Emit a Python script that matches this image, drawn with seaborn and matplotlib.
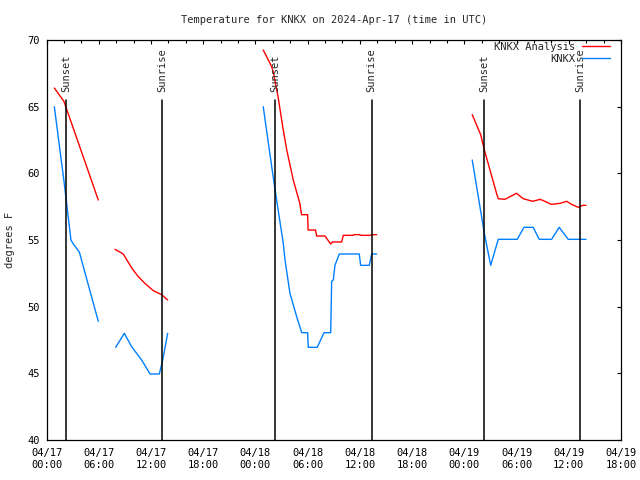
import pandas as pd
import matplotlib
matplotlib.use("Agg")
import matplotlib.pyplot as plt
import seaborn as sns
from matplotlib.ticker import MultipleLocator

# hours after 2024-04-17 00:00 UTC, one list per unbroken segment
ana_hours = [
    [0.9, 2.0, 5.95],
    [7.87, 8.82, 9.79, 10.55, 11.3, 12.27, 13.23, 13.92],
    [24.9, 25.87, 26.05, 26.6, 27.2, 27.6, 28.35, 29.1, 29.3, 30.0, 30.05,
     30.9, 31.04, 31.99, 32.65, 32.83, 33.9, 34.1, 35.24, 35.3, 36.0, 36.1,
     37.16, 37.36, 37.93],
    [48.91, 49.88, 50.3, 50.95, 51.7, 51.9, 52.67, 53.25, 54.0, 54.77, 55.85,
     56.7, 57.27, 58.0, 58.99, 59.76, 60.33, 61.1, 61.6, 61.98],
]
ana_temps = [
    [66.4, 65.4, 58.0],
    [54.3, 53.95, 52.9, 52.25, 51.75, 51.2, 50.9, 50.5],
    [69.25, 68.0, 67.6, 65.75, 63.25, 61.75, 59.5, 57.75, 56.9, 56.9, 55.75,
     55.75, 55.3, 55.3, 54.7, 54.85, 54.85, 55.35, 55.35, 55.4, 55.4, 55.35,
     55.35, 55.4, 55.4],
    [64.4, 62.9, 61.75, 60.25, 58.5, 58.1, 58.05, 58.25, 58.5, 58.1, 57.9,
     58.05, 57.9, 57.67, 57.75, 57.9, 57.67, 57.45, 57.6, 57.6],
]

obs_hours = [
    [0.9, 2.04, 2.81, 3.08, 3.77, 5.95],
    [7.95, 8.94, 9.78, 10.93, 11.9, 12.96, 13.35, 13.92],
    [24.9, 25.6, 26.25, 27.2, 27.4, 27.97, 28.74, 29.32, 30.0, 30.07, 31.1,
     31.88, 32.65, 32.76, 32.95, 33.14, 33.64, 35.93, 36.09, 37.08, 37.36,
     37.93],
    [48.91, 50.3, 51.03, 51.9, 54.08, 54.85, 55.92, 56.6, 58.03, 58.9, 59.94,
     61.98],
]
obs_temps = [
    [65.0, 59.25, 55.0, 54.7, 54.1, 48.9],
    [46.95, 48.0, 47.0, 46.0, 44.95, 44.95, 46.0, 48.0],
    [65.0, 61.75, 58.8, 54.75, 53.5, 51.0, 49.25, 48.05, 48.05, 46.95, 46.95,
     48.05, 48.05, 51.9, 52.0, 53.1, 53.95, 53.95, 53.1, 53.1, 53.95, 53.95],
    [61.0, 55.5, 53.1, 55.05, 55.05, 55.95, 55.95, 55.05, 55.05, 55.95, 55.05,
     55.05],
]

sunset_hours = [2.28, 26.28, 50.29]
sunrise_hours = [13.3, 37.36, 61.32]

tick_hours = list(range(0, 67, 6))
tick_labels = ["04/17\n00:00", "04/17\n06:00", "04/17\n12:00", "04/17\n18:00",
               "04/18\n00:00", "04/18\n06:00", "04/18\n12:00", "04/18\n18:00",
               "04/19\n00:00", "04/19\n06:00", "04/19\n12:00", "04/19\n18:00"]

# long-form table, one unit per segment so gaps stay open
rows = []
for name, hrs, tmps in [("KNKX Analysis", ana_hours, ana_temps),
                        ("KNKX", obs_hours, obs_temps)]:
    for i, (hs, ts) in enumerate(zip(hrs, tmps)):
        for h, t in zip(hs, ts):
            rows.append({"hour": h, "temp": t, "series": name,
                         "seg": f"{name}-{i}"})
df = pd.DataFrame(rows)

sns.set_theme(style="white")
plt.rcParams["font.family"] = ["DejaVu Sans Mono"]
plt.rcParams["font.size"] = 7.5

fig = plt.figure(figsize=(6.4, 4.8), dpi=100)
ax = fig.add_axes([46.5 / 640, 40 / 480, 574.5 / 640, 400 / 480])

sns.lineplot(data=df, x="hour", y="temp", hue="series", units="seg",
             estimator=None, hue_order=["KNKX Analysis", "KNKX"],
             palette={"KNKX Analysis": "#ff0000", "KNKX": "#0080ff"},
             linewidth=1.0, ax=ax)

for h in sunset_hours:
    ax.plot([h, h], [40, 65.5], color="black", lw=1.1)
    ax.text(h, 66.1, "Sunset", rotation=90, ha="center", va="bottom",
            fontsize=7.5)
for h in sunrise_hours:
    ax.plot([h, h], [40, 65.5], color="black", lw=1.1)
    ax.text(h, 66.1, "Sunrise", rotation=90, ha="center", va="bottom",
            fontsize=7.5)

ax.set_xlim(0, 66)
ax.set_ylim(40, 70)
ax.set_xticks(tick_hours)
ax.set_xticklabels(tick_labels)
ax.xaxis.set_minor_locator(MultipleLocator(2))
ax.set_yticks(range(40, 71, 5))
ax.tick_params(axis="both", which="both", direction="in", top=True,
               right=True, colors="black", labelsize=7.5, width=0.8)
ax.tick_params(axis="both", which="major", length=3.2)
ax.tick_params(axis="both", which="minor", length=2.2)
ax.tick_params(axis="x", which="major", pad=6)
ax.tick_params(axis="y", which="major", pad=4.5)
for s in ax.spines.values():
    s.set_color("black")
    s.set_linewidth(0.9)

ax.set_xlabel("")
ax.set_ylabel("degrees F", fontsize=7.5)
ax.yaxis.set_label_coords(-0.055, 0.5)
ax.set_title("Temperature for KNKX on 2024-Apr-17 (time in UTC)",
             fontsize=7.5, pad=12)

leg = ax.get_legend()
handles = leg.legend_handles
labels = [t.get_text() for t in leg.get_texts()]
ax.legend(handles, labels, loc="upper right", bbox_to_anchor=(0.981, 0.995),
          frameon=False, markerfirst=False, borderpad=0, borderaxespad=0,
          handlelength=2.7, handletextpad=0.65, labelspacing=0.15,
          fontsize=7.5)

fig.savefig("out.png", dpi=100)
